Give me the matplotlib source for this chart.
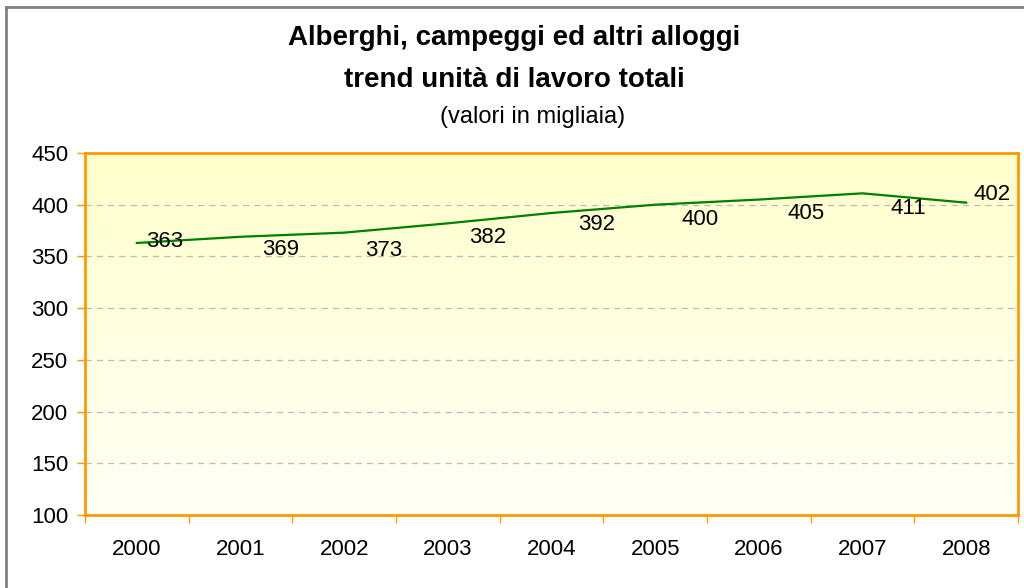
import numpy as np
import matplotlib
matplotlib.use("Agg")
import matplotlib.pyplot as plt
from matplotlib.lines import Line2D

plt.rcParams['font.family'] = ['Liberation Sans', 'DejaVu Sans']

# dati
anni = ['2000', '2001', '2002', '2003', '2004', '2005', '2006', '2007', '2008']
unita = [363, 369, 373, 382, 392, 400, 405, 411, 402]
y_ticks = [100, 150, 200, 250, 300, 350, 400, 450]

# spostamento etichette (pixel), come nel grafico originale
label_dx = [28, 40, 40, 40, 45, 45, 47, 46, 26]
label_dy = [1, -13, -18, -14, -12, -15, -14, -15, 8]

W, H = 1024, 588
fig = plt.figure(figsize=(W / 100, H / 100), dpi=100)
ax = fig.add_axes([85 / W, 1 - 515 / H, (1018 - 85) / W, (515 - 153) / H])

orange = '#FF9900'
x = np.arange(len(anni))

# sfondo sfumato giallo -> bianco
grad = np.linspace(0, 1, 256).reshape(-1, 1)
top = np.array([1.0, 1.0, 0.80])
bottom = np.array([1.0, 1.0, 0.97])
img = top[None, None, :] * (1 - grad[:, :, None]) + bottom[None, None, :] * grad[:, :, None]
ax.imshow(img, extent=[-0.5, len(anni) - 0.5, 100, 450], aspect='auto', origin='upper', zorder=0)

ax.set_xlim(-0.5, len(anni) - 0.5)
ax.set_ylim(100, 450)

for yv in y_ticks[1:-1]:
    ax.axhline(yv, color='#BBBBBB', lw=0.9, ls=(0, (5, 4)), zorder=1)

ax.plot(x, unita, color='#008000', lw=1.6, zorder=3)

for xi, v, dx, dy in zip(x, unita, label_dx, label_dy):
    ax.annotate(str(v), (xi, v), xytext=(dx, dy), textcoords='offset pixels',
                ha='center', va='center', fontsize=16, color='black', zorder=4)

for s in ax.spines.values():
    s.set_color(orange)
    s.set_linewidth(2)

ax.set_yticks(y_ticks)
ax.set_yticklabels([str(t) for t in y_ticks], fontsize=16)
ax.set_xticks(x)
ax.set_xticklabels(anni, fontsize=16)
ax.tick_params(axis='x', length=0, pad=17)
ax.set_xticks(np.arange(len(anni) + 1) - 0.5, minor=True)
ax.tick_params(axis='x', which='minor', length=6, color=orange, width=1)
ax.tick_params(axis='y', length=6, color=orange, width=1, pad=6)

fig.text(0.502, 1 - 38 / H, 'Alberghi, campeggi ed altri alloggi', ha='center', va='center',
         fontsize=20, fontweight='bold')
fig.text(0.502, 1 - 80 / H, 'trend unità di lavoro totali', ha='center', va='center',
         fontsize=20, fontweight='bold')
fig.text(0.52, 1 - 117 / H, '(valori in migliaia)', ha='center', va='center', fontsize=17)

# bordo del grafico (solo alto e sinistra visibili)
fig.add_artist(Line2D([6 / W, 6 / W], [0, 1 - 7 / H], color='#808080', lw=2, transform=fig.transFigure))
fig.add_artist(Line2D([6 / W, 1], [1 - 7 / H, 1 - 7 / H], color='#808080', lw=2, transform=fig.transFigure))

fig.savefig('out.png', dpi=100)
